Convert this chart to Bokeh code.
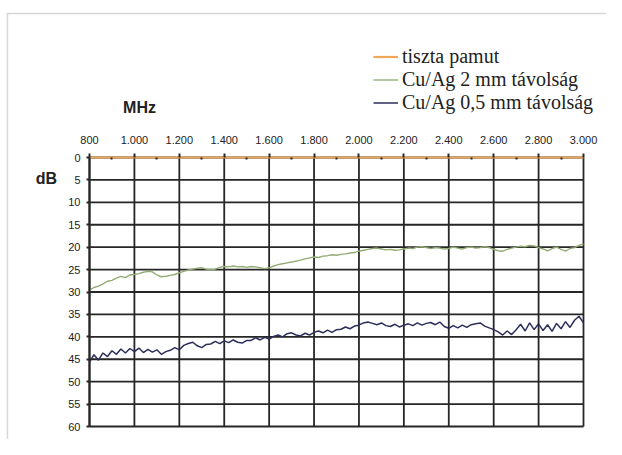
from bokeh.plotting import figure
from bokeh.models import (Range1d, FixedTicker, Label, Legend, LegendItem, BoxAnnotation)
from bokeh.embed import file_html
from bokeh.resources import INLINE

# ---- data ----
freq_mhz = list(range(800, 3001, 20))
x_ticks = [800, 1000, 1200, 1400, 1600, 1800, 2000, 2200, 2400, 2600, 2800, 3000]
x_minor_ticks = [900, 1100, 1300, 1500, 1700, 1900, 2100, 2300, 2500, 2700, 2900]
x_tick_labels = ["800", "1.000", "1.200", "1.400", "1.600", "1.800", "2.000",
                 "2.200", "2.400", "2.600", "2.800", "3.000"]
y_ticks = [0, 5, 10, 15, 20, 25, 30, 35, 40, 45, 50, 55, 60]

series_names = ["tiszta pamut", "Cu/Ag 2 mm távolság", "Cu/Ag 0,5 mm távolság"]

pamut_x = [800, 3000]
pamut_db = [0, 0]

cuag2_db = [
    29.6, 29.0, 28.7, 28.2, 27.6, 27.4, 26.9, 26.5, 26.8, 26.2,
    26.1, 25.9, 25.6, 25.4, 25.5, 26.2, 26.6, 26.5, 26.3, 26.1,
    25.7, 25.4, 25.1, 24.9, 24.7, 24.6, 24.9, 25.1, 24.9, 24.5,
    24.3, 24.4, 24.2, 24.4, 24.3, 24.5, 24.3, 24.4, 24.6, 24.8,
    24.6, 24.2, 23.9, 23.7, 23.5, 23.3, 23.1, 22.9, 22.6, 22.4,
    22.2, 22.3, 22.0, 21.9, 21.7, 21.8, 21.6, 21.5, 21.3, 21.2,
    20.9, 20.7, 20.5, 20.3, 20.2, 20.4, 20.6, 20.5, 20.7, 20.6,
    20.4, 20.2, 20.3, 20.0, 19.9, 20.1, 20.3, 20.1, 20.2, 20.4,
    20.3, 20.0, 20.2, 20.4, 20.1, 20.0, 20.2, 20.1, 19.9, 20.1,
    20.5, 20.8, 20.9, 20.5, 20.2, 20.0, 19.8, 19.9, 19.6, 19.7,
    20.1, 20.4, 20.8, 20.3, 20.0, 20.5, 20.9, 20.3, 20.1, 19.6,
    19.3,
]

cuag05_db = [
    45.6, 44.0, 45.2, 43.6, 44.4, 43.1, 43.9, 42.7, 43.6, 42.6,
    43.3, 42.5, 43.5, 42.8, 43.4, 42.9, 43.9, 43.3, 43.0, 42.4,
    42.9, 41.9, 41.5, 41.2, 42.0, 42.4, 41.7, 41.6, 41.0, 41.5,
    40.9, 41.3, 40.7, 41.2, 41.4, 40.8, 40.8, 40.2, 40.7, 40.1,
    40.5, 39.9, 39.6, 40.0, 39.3, 39.1, 39.6, 39.8, 39.2, 39.6,
    39.0, 38.7, 39.1, 38.5, 39.0, 38.4, 38.3, 37.8, 38.2, 37.6,
    37.4, 36.9, 36.7, 37.0, 37.3, 36.9, 37.5, 37.7, 37.2, 37.8,
    37.4, 37.1, 37.5, 36.9, 37.4, 37.0, 36.8, 37.3, 36.7, 37.7,
    38.1, 37.5, 38.0, 37.4, 37.9, 37.3, 37.1, 36.9, 37.6, 38.0,
    38.4, 38.9, 39.6, 38.7, 39.5, 38.4, 37.2, 38.7, 36.9, 38.4,
    37.1, 38.6, 37.3, 38.8, 37.0, 38.2, 36.6, 37.9, 36.3, 35.4,
    36.9,
]

# ---- layout: the frame spans the whole canvas; the chart area sits inside ----
W, H = 606, 439
PL, PR, PT, PB = 89, 583, 157, 426          # chart area in pixels
XMIN, XMAX, YMIN, YMAX = 800, 3000, 0, 60
kx = (XMAX - XMIN) / (PR - PL)
ky = (YMAX - YMIN) / (PB - PT)


def px_x(px):
    return XMIN + (px - PL) * kx


def px_y(py):
    return YMIN + (py - PT) * ky


p = figure(width=W, height=H, output_backend="svg", toolbar_location=None,
           x_range=Range1d(px_x(0), px_x(W)), y_range=Range1d(px_y(H), px_y(0)),
           x_axis_location="above", min_border=0)
p.outline_line_color = None
p.background_fill_color = "white"
p.border_fill_color = "white"
p.grid.visible = False

ink = "#262626"

xa = p.xaxis[0]
ya = p.yaxis[0]
xa.fixed_location = 0
ya.fixed_location = 800
xa.bounds = (XMIN, XMAX)
ya.bounds = (YMIN, YMAX)
xa.ticker = FixedTicker(ticks=x_ticks, minor_ticks=x_minor_ticks)
xa.major_label_overrides = {t: l for t, l in zip(x_ticks, x_tick_labels)}
ya.ticker = FixedTicker(ticks=y_ticks)

for ax in (xa, ya):
    ax.major_label_text_font = "Liberation Sans"
    ax.major_label_text_font_size = "11px"
    ax.major_label_text_color = "#222222"
    ax.major_tick_line_color = ink
    ax.major_tick_line_width = 2
    ax.major_tick_in = 0

xa.axis_line_color = None
xa.major_tick_out = 4
xa.minor_tick_in = 2
xa.minor_tick_out = 0
xa.minor_tick_line_color = ink
xa.minor_tick_line_width = 2
xa.major_label_standoff = 10

ya.axis_line_color = ink
ya.axis_line_width = 2
ya.major_tick_out = 3
ya.minor_tick_line_color = None
ya.major_label_standoff = 6

# grid lines of the chart area (bounded to it)
p.segment(x0=x_ticks, y0=[YMIN] * len(x_ticks), x1=x_ticks, y1=[YMAX] * len(x_ticks),
          line_color=ink, line_width=1.8)
p.segment(x0=[XMIN] * len(y_ticks), y0=y_ticks, x1=[XMAX] * len(y_ticks), y1=y_ticks,
          line_color=ink, line_width=1.8)

r1 = p.line(pamut_x, pamut_db, line_color="#efa75c", line_width=2.2)
r2 = p.line(freq_mhz, cuag2_db, line_color="#93ac74", line_width=1.4)
r3 = p.line(freq_mhz, cuag05_db, line_color="#2e2e5c", line_width=1.5)

legend = Legend(items=[LegendItem(label=series_names[0], renderers=[r1]),
                       LegendItem(label=series_names[1], renderers=[r2]),
                       LegendItem(label=series_names[2], renderers=[r3])],
                location=(373, H - 114), padding=0, margin=0, spacing=0,
                glyph_width=25, glyph_height=23, label_height=23,
                label_standoff=4, border_line_color=None,
                background_fill_alpha=0,
                label_text_font="Liberation Serif",
                label_text_font_size="20px", label_text_color="#222222")
p.add_layout(legend, "center")

p.add_layout(Label(x=px_x(139), y=px_y(107), text="MHz",
                   text_font="Liberation Sans", text_font_style="bold",
                   text_font_size="16px", text_align="center",
                   text_baseline="middle", text_color="#222222"))
p.add_layout(Label(x=px_x(46), y=px_y(178), text="dB",
                   text_font="Liberation Sans", text_font_style="bold",
                   text_font_size="16px", text_align="center",
                   text_baseline="middle", text_color="#222222"))

# outer frame of the chart
p.add_layout(BoxAnnotation(left=px_x(7), right=px_x(W + 20), top=px_y(13), bottom=px_y(H + 20),
                           fill_alpha=0, line_color="#7a7a7a", line_width=1.5))

open("out.html", "w").write(file_html(p, INLINE))
